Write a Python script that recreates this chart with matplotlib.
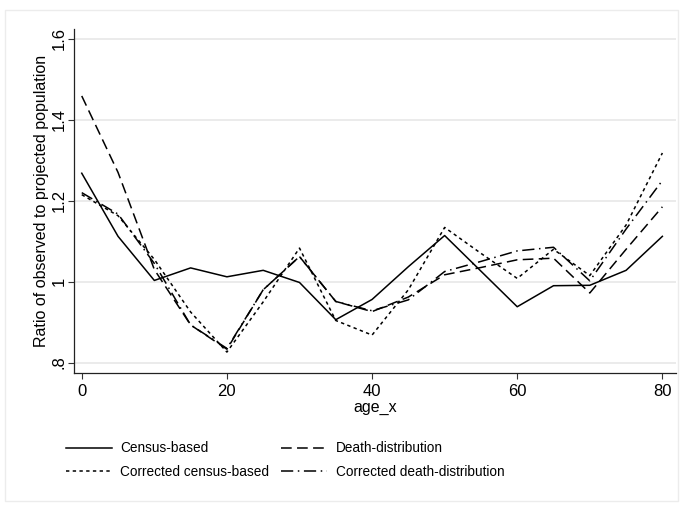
import matplotlib
matplotlib.use('Agg')
import matplotlib.pyplot as plt
from matplotlib.patches import Rectangle

plt.rcParams['font.family'] = ['Liberation Sans', 'DejaVu Sans']

# age groups and the four ratio series
ages = [0, 5, 10, 15, 20, 25, 30, 35, 40, 45, 50, 55, 60, 65, 70, 75, 80]
census = [1.268, 1.112, 1.003, 1.034, 1.012, 1.028, 0.998, 0.906, 0.956, 1.037,
          1.114, 1.026, 0.938, 0.990, 0.991, 1.028, 1.112]
death = [1.459, 1.270, 1.030, 0.893, 0.833, 0.980, 1.062, 0.951, 0.926, 0.962,
         1.017, 1.035, 1.054, 1.058, 0.972, 1.080, 1.185]
corr_census = [1.215, 1.163, 1.055, 0.925, 0.826, 0.950, 1.083, 0.904, 0.868, 0.980,
               1.134, 1.070, 1.008, 1.080, 1.015, 1.140, 1.318]
corr_death = [1.220, 1.167, 1.045, 0.893, 0.835, 0.980, 1.062, 0.951, 0.928, 0.955,
              1.025, 1.050, 1.076, 1.085, 1.002, 1.130, 1.250]

yticks = [0.8, 1.0, 1.2, 1.4, 1.6]
ytick_labels = ['.8', '1', '1.2', '1.4', '1.6']
xticks = [0, 20, 40, 60, 80]

fig = plt.figure(figsize=(6.83, 5.05), dpi=100)
# stata-ish graph region border
fig.patches.append(Rectangle((0.007, 0.008), 0.986, 0.972, transform=fig.transFigure,
                             fill=False, edgecolor='#ececec', linewidth=1.0))

ax = fig.add_axes([0.108, 0.262, 0.882, 0.681])

lw = 1.1
l1, = ax.plot(ages, census, color='black', lw=lw, linestyle='-', label='Census-based')
l2, = ax.plot(ages, death, color='black', lw=lw, linestyle=(0, (7, 3.5)),
              label='Death-distribution')
l3, = ax.plot(ages, corr_census, color='black', lw=lw, linestyle=(0, (2.2, 2.2)),
              label='Corrected census-based')
l4, = ax.plot(ages, corr_death, color='black', lw=lw, linestyle=(0, (8, 3, 1, 3)),
              label='Corrected death-distribution')

ax.set_xlim(-1.1, 81.9)
ax.set_ylim(0.775, 1.625)
ax.set_yticks(yticks)
ax.set_yticklabels(ytick_labels, rotation=90, va='center', fontsize=12)
ax.set_xticks(xticks)
ax.set_xticklabels([str(x) for x in xticks], fontsize=12)
ax.tick_params(axis='both', direction='out', length=4.5, width=0.8, color='#333333')
ax.tick_params(axis='y', pad=0.5)
ax.yaxis.grid(True, color='#e8e8e8', linewidth=1.2)
ax.set_axisbelow(True)
for s in ['top', 'right']:
    ax.spines[s].set_visible(False)
for s in ['left', 'bottom']:
    ax.spines[s].set_color('#222222')
    ax.spines[s].set_linewidth(0.9)

ax.set_xlabel('age_x', fontsize=11.5, labelpad=1)
ax.set_ylabel('Ratio of observed to projected population', fontsize=11.5, labelpad=2)

# matplotlib fills legend column by column
fig.legend([l1, l3, l2, l4], [l.get_label() for l in (l1, l3, l2, l4)],
           ncol=2, frameon=False, loc='upper left',
           bbox_to_anchor=(0.078, 0.15), bbox_transform=fig.transFigure,
           fontsize=9.8, handlelength=3.4, handletextpad=0.6, columnspacing=0.9,
           labelspacing=0.7)

fig.savefig('out.png', dpi=100)
